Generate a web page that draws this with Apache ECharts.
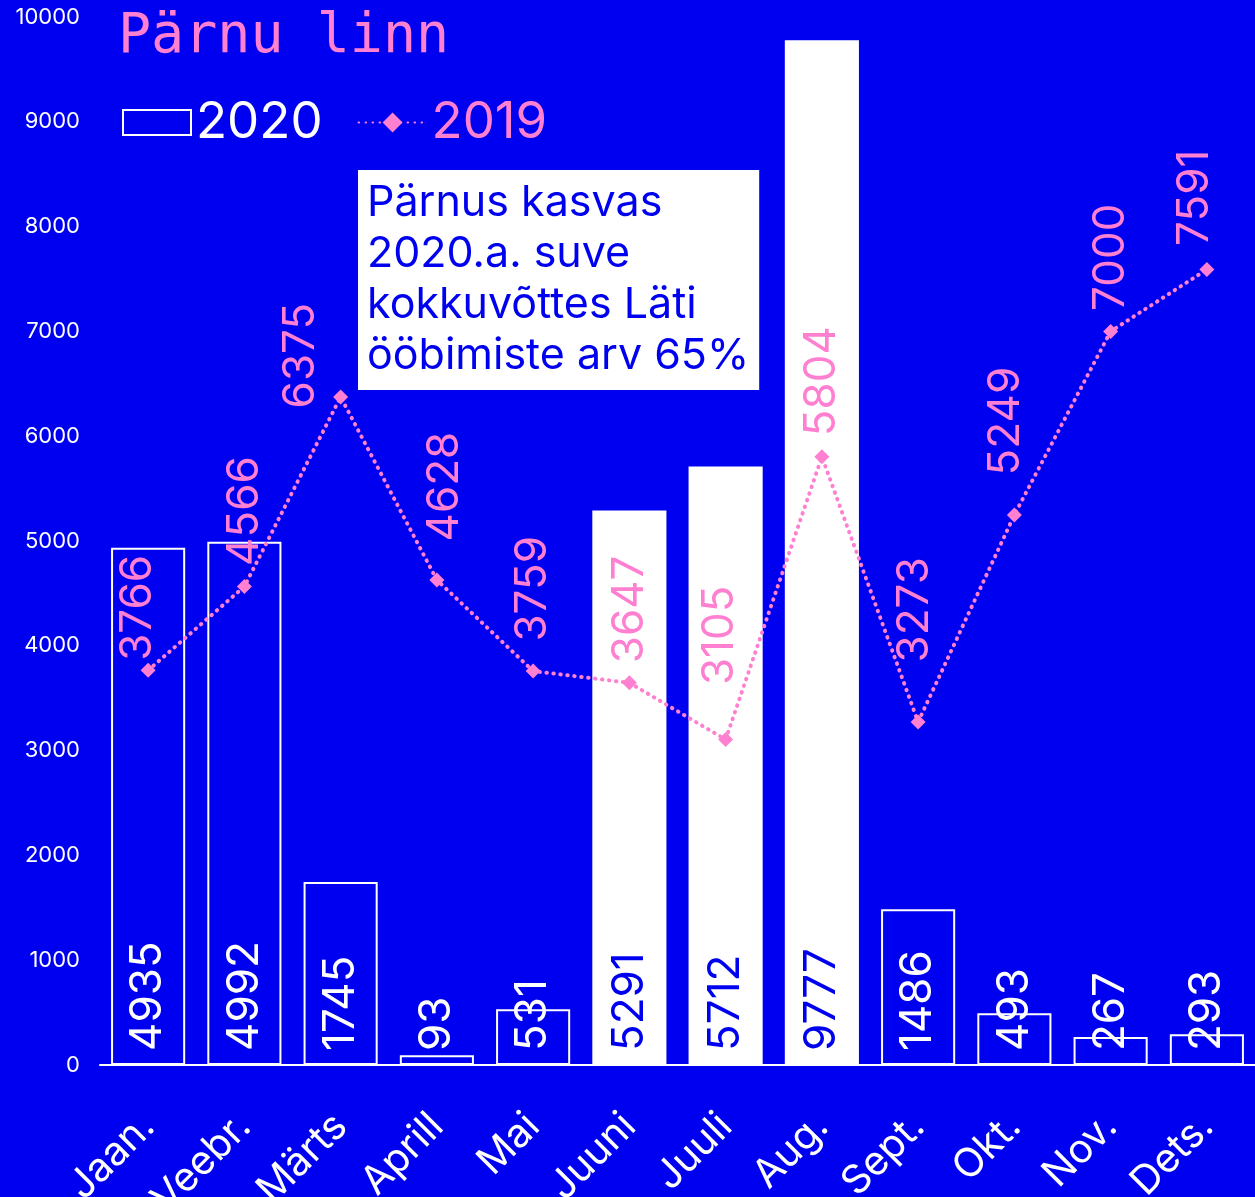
<!DOCTYPE html>
<html><head><meta charset="utf-8">
<script src="https://cdn.jsdelivr.net/npm/echarts@6/dist/echarts.min.js"></script>
<style>html,body{margin:0;padding:0;background:#0000F0;}#c{width:1255px;height:1197px;}</style>
</head><body><div id="c"></div>
<script>
const months = ['Jaan.','Veebr.','Märts','Aprill','Mai','Juuni','Juuli','Aug.','Sept.','Okt.','Nov.','Dets.'];
const values2020 = [4935,4992,1745,93,531,5291,5712,9777,1486,493,267,293];
const values2019 = [3766,4566,6375,4628,3759,3647,3105,5804,3273,5249,7000,7591];
const filledMonths = ['Juuni','Juuli','Aug.'];
const yTicks = [0,1000,2000,3000,4000,5000,6000,7000,8000,9000,10000];
// label nudges for the 2019 labels (style only): [up, right] in px
const labelNudges2019 = [[2,-10],[13,0],[-19,-40],[31,8],[22,0],[12,0],[47,-6],[13,0],[52,-3],[32,-9],[13,0],[16,-12]];

const BLUE = '#0000F0', PINK = '#FF80D0', WHITE = '#FFFFFF';
const FONT = 'Inter, "Open Sans", sans-serif';

const chart = echarts.init(document.getElementById('c'), null, {renderer:'canvas'});
chart.setOption({
  backgroundColor: BLUE,
  animation: false,
  title: [{
    text: 'Pärnu linn', left: 113, top: 5,
    textStyle: {color: PINK, fontSize: 55, fontWeight: 'normal', fontFamily: '"DejaVu Sans Mono", monospace'}
  },{
    text: 'Pärnus kasvas\n2020.a. suve\nkokkuvõttes Läti\nööbimiste arv 65%',
    left: 358, top: 170,
    backgroundColor: WHITE, padding: [8, 10, 8, 9],
    textStyle: {color: BLUE, fontSize: 43, lineHeight: 51, fontWeight: 'normal', fontFamily: FONT}
  }],
  legend: {
    left: 122, top: 97, padding: 0, itemGap: 35, itemWidth: 68, itemHeight: 25,
    data: [
      {name: '2020', icon: 'rect', itemStyle: {color: BLUE, borderColor: WHITE, borderWidth: 2}, textStyle: {color: WHITE}},
      {name: '2019', textStyle: {color: PINK}}
    ],
    textStyle: {fontSize: 51, lineHeight: 50, fontFamily: FONT}
  },
  grid: {left: 100, right: 0, top: 17, bottom: 132, containLabel: false, outerBoundsMode: 'none'},
  xAxis: {
    type: 'category', data: months,
    axisLine: {show: true, lineStyle: {color: WHITE, width: 2}},
    axisTick: {show: false},
    axisLabel: {color: WHITE, fontSize: 40, rotate: 45, margin: 55, interval: 0, fontFamily: FONT}
  },
  yAxis: {
    type: 'value', min: 0, max: 10000, interval: 1000,
    splitLine: {show: false}, axisLine: {show: false}, axisTick: {show: false},
    axisLabel: {color: WHITE, fontSize: 22, margin: 20, fontFamily: FONT,
      formatter: v => yTicks.includes(v) ? String(v) : ''}
  },
  series: [{
    name: '2020', type: 'bar', barWidth: '77%',
    data: values2020.map((v, i) => {
      const filled = filledMonths.includes(months[i]);
      return {
        value: v,
        itemStyle: {color: filled ? WHITE : BLUE, borderColor: WHITE, borderWidth: 2},
        label: {color: filled ? BLUE : WHITE}
      };
    }),
    label: {
      show: true, position: 'insideBottom', rotate: 90, align: 'left', verticalAlign: 'middle',
      distance: 14, fontSize: 44, fontFamily: FONT
    },
    z: 2
  },{
    name: '2019', type: 'line',
    data: values2019.map((v, i) => ({
      value: v,
      label: {offset: labelNudges2019[i]}
    })),
    symbol: 'diamond', symbolSize: 15,
    itemStyle: {color: PINK},
    lineStyle: {color: PINK, width: 4, type: [0.5, 6.5], cap: 'round'},
    label: {
      show: true, position: 'top', rotate: 90, align: 'left', verticalAlign: 'middle',
      distance: 0, color: PINK, fontSize: 44, fontFamily: FONT
    },
    z: 3
  }]
});
</script></body></html>
